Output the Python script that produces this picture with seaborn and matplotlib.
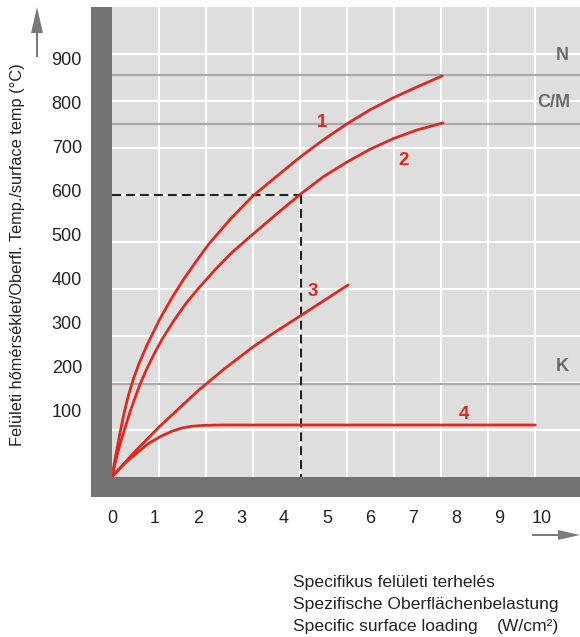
import matplotlib
matplotlib.use("Agg")
import matplotlib.pyplot as plt
from matplotlib.patches import Rectangle, Polygon
import pandas as pd
import seaborn as sns

# Specific surface loading (W/cm²) -> surface temperature (°C)
c1_x = [0.0, 0.093, 0.186, 0.279, 0.372, 0.488, 0.628, 0.814, 1.116, 1.395, 1.674, 1.953,
        2.233, 2.744, 3.279, 3.837, 4.372, 4.907, 5.465, 6.0, 6.535, 7.093, 7.674]
c1_y = [-52, 0, 48, 92, 130, 168, 206, 248, 308, 356, 399, 438,
        476, 534, 588, 633, 676, 715, 752, 784, 811, 836, 861]

c2_x = [0.0, 0.093, 0.186, 0.279, 0.42, 0.55, 0.65, 0.8, 0.97, 1.163, 1.44, 1.72, 2.0,
        2.4, 2.78, 3.163, 3.76, 4.372, 4.907, 5.465, 6.0, 6.535, 7.093, 7.698]
c2_y = [-52, -13, 22, 52, 96, 132, 158, 192, 226, 261, 304, 343, 376,
        420, 458, 491, 541, 591, 631, 665, 694, 718, 738, 754]

c3_x = [0.0, 0.5, 1.1, 2.0, 2.6, 3.28, 3.72, 4.37, 5.49]
c3_y = [-52, 2, 62, 144, 193, 244, 273, 314, 385]

c4_x = [0.0, 0.3, 0.6, 0.85, 1.13, 1.4, 1.62, 1.85, 2.09, 2.5, 9.84]
c4_y = [-52, -21, 4, 24, 40, 52, 59, 63, 65, 66, 66]

curve_names = ["1", "2", "3", "4"]
curve_label_xy = [(4.88, 754), (6.77, 668), (4.67, 371), (8.19, 91)]

# Heater class limits
level_names = ["N", "C/M", "K"]
level_values = [862, 752, 159]
level_label_xy = [(10.46, 907), (10.26, 800), (10.46, 200)]

# Worked example read-off
ref_x, ref_y = 4.4, 590

x_ticks = list(range(0, 11))
y_ticks = [100, 200, 300, 400, 500, 600, 700, 800, 900]

ylabel_text = "Felületi hőmérséklet/Oberfl. Temp./surface temp (°C)"
xlabel_lines = ["Specifikus felületi terhelés", "Spezifische Oberflächenbelastung",
                "Specific surface loading"]
unit_text = "(W/cm²)"

RED = "#dd2920"
PANEL = "#dedede"
FRAME = "#737270"
LEVEL = "#a9a9a9"
LABEL_GREY = "#6b6b6b"
TEXT = "#222222"

sns.set_style("white")
plt.rcParams["font.family"] = ["Liberation Sans", "DejaVu Sans"]

W, H = 580, 637
fig = plt.figure(figsize=(W / 100, H / 100), dpi=100)
fig.patch.set_facecolor("white")

ax_l, ax_r, ax_t, ax_b = 112, 580, 7, 477
Y_MIN, Y_MAX = -52.4, 1018
ax = fig.add_axes([ax_l / W, 1 - ax_b / H, (ax_r - ax_l) / W, (ax_b - ax_t) / H])
ax.set_facecolor(PANEL)
ax.set_xlim(0, 10.88)
ax.set_ylim(Y_MIN, Y_MAX)
for s in ax.spines.values():
    s.set_visible(False)

# square background grid (cells of 47 px)
gx, gy = 47 / 43, 47 / 0.439
for k in range(1, 10):
    ax.axvline(k * gx, color="white", lw=1.5, zorder=1)
    ax.axhline(Y_MIN + k * gy, color="white", lw=1.5, zorder=1)

for name, val, (lx, ly) in zip(level_names, level_values, level_label_xy):
    ax.axhline(val, color=LEVEL, lw=1.6, zorder=2)
    ax.text(lx, ly, name, color=LABEL_GREY, fontsize=13, fontweight="bold",
            ha="center", va="center", zorder=5)

frames = []
for name, xs, ys in zip(curve_names, [c1_x, c2_x, c3_x, c4_x], [c1_y, c2_y, c3_y, c4_y]):
    frames.append(pd.DataFrame({"load": xs, "temp": ys, "curve": name}))
df = pd.concat(frames, ignore_index=True)
sns.lineplot(data=df, x="load", y="temp", units="curve", estimator=None, sort=False,
             color=RED, lw=2.0, ax=ax, zorder=4, legend=False)

for name, (lx, ly) in zip(curve_names, curve_label_xy):
    ax.text(lx, ly, name, color=RED, fontsize=13.5, fontweight="bold",
            ha="center", va="center", zorder=5)

dash = (0, (4.3, 2.4))
ax.plot([0, ref_x], [ref_y, ref_y], color=TEXT, lw=1.5, linestyle=dash, zorder=3)
ax.plot([ref_x, ref_x], [ref_y, Y_MIN], color=TEXT, lw=1.5, linestyle=dash, zorder=3)

ax.set_xticks(x_ticks)
ax.set_xticklabels([str(t) for t in x_ticks])
ax.set_yticks(y_ticks)
ax.set_yticklabels([str(t) for t in y_ticks])
ax.tick_params(axis="x", length=0, pad=23.5, labelsize=13, labelcolor=TEXT)
ax.tick_params(axis="y", length=0, pad=21.6, labelsize=13, labelcolor=TEXT)
ax.set_xlabel("")
ax.set_ylabel("")

# dark frame along the left and bottom of the panel
def fig_rect(x0, y0, x1, y1, color):
    return Rectangle((x0 / W, 1 - y1 / H), (x1 - x0) / W, (y1 - y0) / H,
                     transform=fig.transFigure, facecolor=color, edgecolor="none", zorder=0)

fig.add_artist(fig_rect(91, 7, 112, 497, FRAME))
fig.add_artist(fig_rect(91, 477, 580, 497, FRAME))

# axis direction arrows
ARROW = "#7a7a7a"
fig.add_artist(fig_rect(36, 32, 38, 57, ARROW))
fig.add_artist(Polygon([(31 / W, 1 - 33 / H), (43 / W, 1 - 33 / H), (37 / W, 1 - 7 / H)],
                       closed=True, transform=fig.transFigure, facecolor=ARROW,
                       edgecolor="none"))
fig.add_artist(fig_rect(532, 534, 562, 536, ARROW))
fig.add_artist(Polygon([(558 / W, 1 - 540 / H), (558 / W, 1 - 530 / H), (580 / W, 1 - 535 / H)],
                       closed=True, transform=fig.transFigure, facecolor=ARROW,
                       edgecolor="none"))

fig.text(18 / W, 1 - 255 / H, ylabel_text, rotation=90, ha="center", va="center",
         fontsize=11.8, color=TEXT)

for i, line in enumerate(xlabel_lines):
    fig.text(293 / W, 1 - (587 + 22 * i) / H, line, ha="left", va="baseline",
             fontsize=12.6, color=TEXT)
fig.text(497 / W, 1 - 631 / H, unit_text, ha="left", va="baseline",
         fontsize=12.6, color=TEXT)

fig.savefig("out.png", dpi=100, facecolor="white")
